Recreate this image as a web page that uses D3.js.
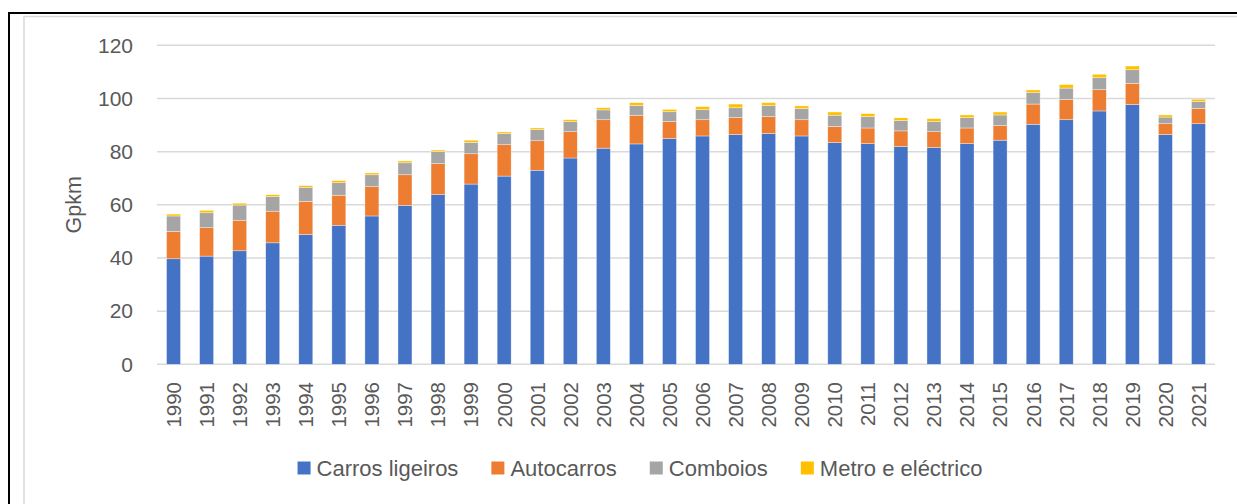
<!DOCTYPE html>
<html>
<head>
<meta charset="utf-8">
<script src="https://cdn.jsdelivr.net/npm/d3@7/dist/d3.min.js"></script>
<style>
  html, body { margin: 0; padding: 0; background: #fff; }
  svg { display: block; }
  text { font-family: "Liberation Sans", Arial, sans-serif; fill: #595959; }
</style>
</head>
<body>
<svg id="chart" width="1237" height="504"></svg>
<script>
const years = ["1990","1991","1992","1993","1994","1995","1996","1997","1998","1999","2000","2001","2002","2003","2004","2005","2006","2007","2008","2009","2010","2011","2012","2013","2014","2015","2016","2017","2018","2019","2020","2021"];
const carrosLigeiros = [39.7,40.7,42.7,45.7,48.8,52.3,55.8,59.8,63.8,67.8,70.8,73.0,77.6,81.3,82.9,84.9,85.9,86.4,86.8,85.9,83.4,83.0,81.9,81.6,83.0,84.3,90.3,92.0,95.3,97.7,86.4,90.5];
const autocarros = [10.3,10.7,11.5,11.9,12.5,11.3,11.0,11.5,11.7,11.4,11.8,11.1,9.9,10.7,10.8,6.4,6.1,6.4,6.4,6.1,6.1,5.9,5.9,5.9,5.9,5.5,7.6,7.6,8.0,8.0,4.1,5.7];
const comboios = [5.8,5.6,5.7,5.5,5.3,4.7,4.5,4.5,4.5,4.3,4.2,4.2,3.8,3.7,3.7,3.7,3.8,3.7,4.1,4.2,4.2,4.3,3.9,3.8,3.9,4.0,4.3,4.3,4.5,5.1,2.5,2.7];
const metroElectrico = [0.7,0.9,0.7,0.7,0.6,0.8,0.7,0.7,0.6,0.8,0.6,0.6,0.7,0.8,1.0,0.9,1.1,1.4,1.1,1.0,1.2,1.1,1.0,1.1,1.0,1.1,1.0,1.3,1.3,1.4,0.8,0.8];
const seriesNames = ["Carros ligeiros","Autocarros","Comboios","Metro e eléctrico"];
const seriesColors = ["#4472C4","#ED7D31","#A5A5A5","#FFC000"];
const yTicks = [0,20,40,60,80,100,120];
const yTitle = "Gpkm";

(function () {
const svg = d3.select("#chart");

// chart frame borders (cropped on right/bottom)
svg.append("rect").attr("x", 9).attr("y", 13).attr("width", 1300).attr("height", 600)
  .attr("fill", "none").attr("stroke", "#000").attr("stroke-width", 2);
svg.append("rect").attr("x", 24).attr("y", 16.5).attr("width", 1300).attr("height", 600)
  .attr("fill", "none").attr("stroke", "#D9D9D9").attr("stroke-width", 1.5);

const pLeft = 157, pRight = 1215, pTop = 45.3, pBottom = 364.3;

const x = d3.scaleBand().domain(years).range([pLeft, pRight]).paddingInner(0.577).paddingOuter(0.2885);
const y = d3.scaleLinear().domain([0, 120]).range([pBottom, pTop]);

// gridlines
svg.append("g").selectAll("line").data(yTicks).join("line")
  .attr("x1", pLeft).attr("x2", pRight)
  .attr("y1", d => y(d)).attr("y2", d => y(d))
  .attr("stroke", "#D9D9D9").attr("stroke-width", 1.5);

// y tick labels
svg.append("g").selectAll("text").data(yTicks).join("text")
  .attr("x", 133).attr("y", d => y(d))
  .attr("dy", "0.35em").attr("text-anchor", "end")
  .attr("font-size", 21).text(d => d);

// y title
svg.append("text")
  .attr("transform", `translate(81,${(pTop + pBottom) / 2}) rotate(-90)`)
  .attr("text-anchor", "middle").attr("font-size", 21.5).text(yTitle);

// stacked data
const table = years.map((yr, i) => ({
  year: yr,
  s0: carrosLigeiros[i], s1: autocarros[i], s2: comboios[i], s3: metroElectrico[i]
}));
const stacked = d3.stack().keys(["s0","s1","s2","s3"])(table);

svg.append("g").selectAll("g").data(stacked).join("g")
  .attr("fill", (d, i) => seriesColors[i])
  .selectAll("rect").data(d => d).join("rect")
  .attr("x", d => x(d.data.year))
  .attr("width", x.bandwidth())
  .attr("y", d => y(d[1]))
  .attr("height", d => y(d[0]) - y(d[1]))
  .attr("stroke", "#ffffff").attr("stroke-width", 0.6).attr("stroke-opacity", 0.6);

// x tick labels
svg.append("g").selectAll("text").data(years).join("text")
  .attr("transform", d => `translate(${x(d) + x.bandwidth() / 2},382) rotate(-90)`)
  .attr("text-anchor", "end").attr("dy", "0.36em")
  .attr("font-size", 20.5).text(d => d);

// legend
const lg = svg.append("g");
const items = lg.selectAll("g").data(seriesNames).join("g");
items.append("rect").attr("width", 13).attr("height", 13).attr("y", -6.5)
  .attr("fill", (d, i) => seriesColors[i]);
items.append("text").attr("x", 19).attr("dy", "0.35em").attr("font-size", 22).text(d => d);
const widths = [];
items.each(function () {
  widths.push(d3.select(this).select("text").node().getComputedTextLength() + 19);
});
const gap = 33;
const total = d3.sum(widths) + gap * (widths.length - 1);
let start = 640 - total / 2;
items.attr("transform", (d, i) => {
  const t = `translate(${start},468)`;
  start += widths[i] + gap;
  return t;
});
})();
</script>
</body>
</html>
